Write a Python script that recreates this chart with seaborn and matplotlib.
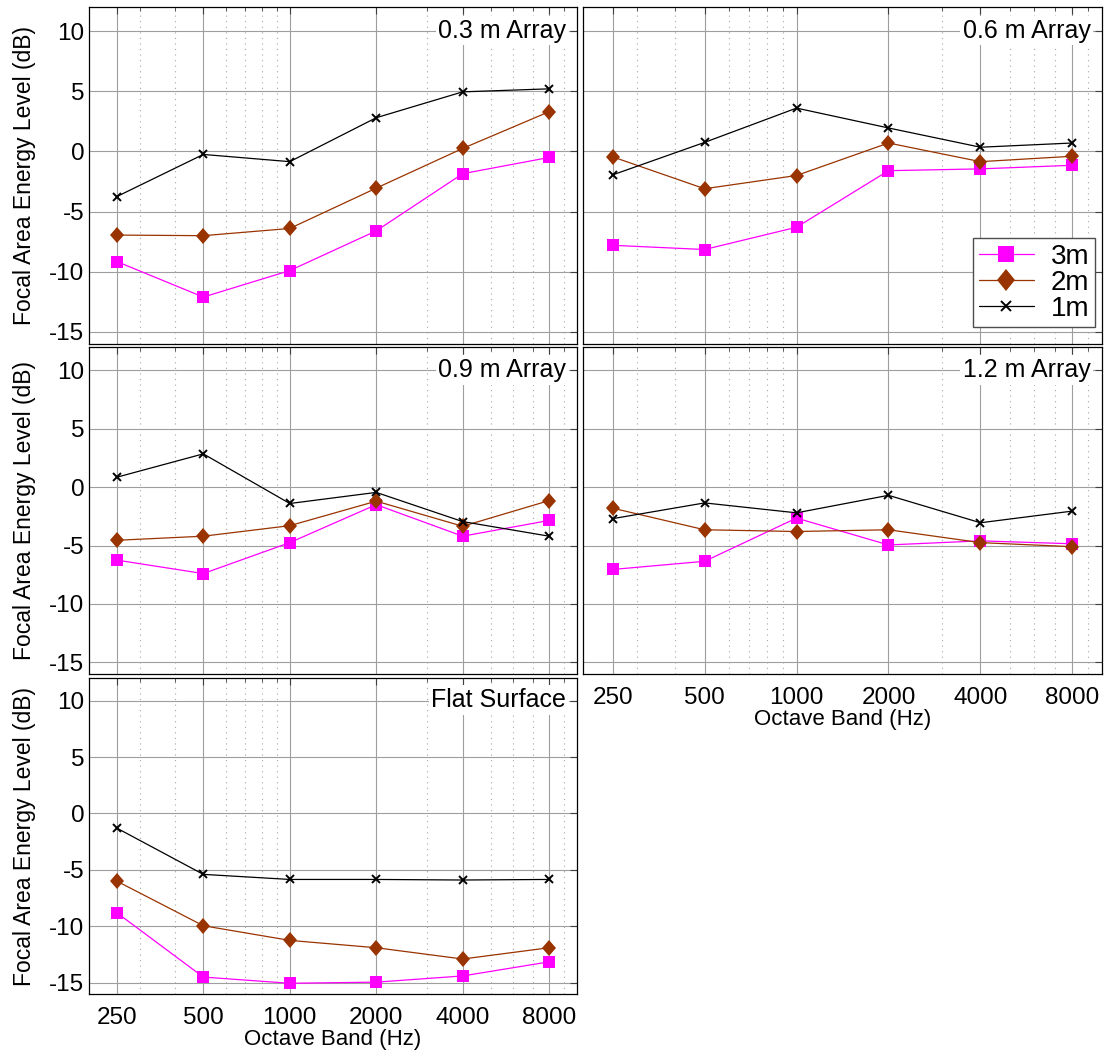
import numpy as np
import pandas as pd
import matplotlib
matplotlib.use('Agg')
import matplotlib.pyplot as plt
from matplotlib.lines import Line2D
from matplotlib.markers import MarkerStyle
from matplotlib.transforms import Affine2D
import seaborn as sns

# octave bands (Hz)
bands = [250, 500, 1000, 2000, 4000, 8000]
band_labels = ['250', '500', '1000', '2000', '4000', '8000']
minor_bands = [300, 400, 600, 700, 800, 900, 3000, 5000, 6000, 7000, 9000]
y_ticks = [-15, -10, -5, 0, 5, 10]

titles = ['0.3 m Array', '0.6 m Array', '0.9 m Array', '1.2 m Array',
          'Flat Surface']

# focal area energy level (dB) per panel and distance
p03_3m = [-9.15, -12.1, -9.9, -6.6, -1.85, -0.5]
p03_2m = [-6.95, -7.0, -6.4, -3.05, 0.25, 3.3]
p03_1m = [-3.75, -0.25, -0.85, 2.8, 4.95, 5.2]

p06_3m = [-7.8, -8.15, -6.3, -1.6, -1.45, -1.15]
p06_2m = [-0.45, -3.1, -2.0, 0.7, -0.85, -0.4]
p06_1m = [-1.95, 0.75, 3.6, 1.95, 0.35, 0.7]

p09_3m = [-6.25, -7.4, -4.75, -1.5, -4.2, -2.85]
p09_2m = [-4.55, -4.2, -3.3, -1.2, -3.35, -1.15]
p09_1m = [0.85, 2.85, -1.4, -0.45, -2.95, -4.2]

p12_3m = [-7.05, -6.35, -2.65, -4.95, -4.6, -4.85]
p12_2m = [-1.8, -3.65, -3.8, -3.65, -4.75, -5.1]
p12_1m = [-2.7, -1.35, -2.2, -0.7, -3.05, -2.05]

flat_3m = [-8.8, -14.5, -15.05, -14.95, -14.4, -13.15]
flat_2m = [-6.0, -9.95, -11.25, -11.9, -12.9, -11.9]
flat_1m = [-1.3, -5.4, -5.85, -5.85, -5.9, -5.85]

panel_data = [
    (p03_3m, p03_2m, p03_1m),
    (p06_3m, p06_2m, p06_1m),
    (p09_3m, p09_2m, p09_1m),
    (p12_3m, p12_2m, p12_1m),
    (flat_3m, flat_2m, flat_1m),
]
distances = ['3m', '2m', '1m']

rows = []
for title, series in zip(titles, panel_data):
    for dist, vals in zip(distances, series):
        for f, v in zip(bands, vals):
            rows.append({'panel': title, 'distance': dist, 'band': f,
                         'level': v})
df = pd.DataFrame(rows)

sns.set_style('white')
plt.rcParams['font.family'] = ['Liberation Sans', 'DejaVu Sans']
plt.rcParams['text.color'] = 'black'
plt.rcParams['axes.labelcolor'] = 'black'
plt.rcParams['xtick.labelcolor'] = 'black'
plt.rcParams['ytick.labelcolor'] = 'black'

diamond = MarkerStyle('D', transform=Affine2D().scale(0.82, 1.0))
styles = {
    '3m': dict(color='#ff00ff', marker='s', markersize=8.5,
               markeredgewidth=0, markeredgecolor='#ff00ff'),
    '2m': dict(color='#993300', marker=diamond, markersize=8.5,
               markeredgewidth=0, markeredgecolor='#993300'),
    '1m': dict(color='black', marker='x', markersize=6,
               markeredgewidth=1.4, markeredgecolor='black'),
}

fig = plt.figure(figsize=(11.06, 10.59), dpi=100)

W, H = 1106.0, 1059.0
col_x = [(89, 577), (583, 1102)]
row_y = [(7, 344), (347, 674), (678, 994)]
positions = [(0, 0), (0, 1), (1, 0), (1, 1), (2, 0)]

for i, title in enumerate(titles):
    r, c = positions[i]
    x0, x1 = col_x[c]
    y0, y1 = row_y[r]
    ax = fig.add_axes([x0 / W, 1 - y1 / H, (x1 - x0) / W, (y1 - y0) / H])
    sub = df[df.panel == title]
    for dist in distances:
        d = sub[sub.distance == dist]
        sns.lineplot(data=d, x='band', y='level', ax=ax, linewidth=0.9,
                     **styles[dist])
    ax.set_xscale('log')
    ax.set_xlim(200, 10000)
    ax.set_ylim(-16, 12)
    ax.set_xticks(bands)
    ax.set_xticks(minor_bands, minor=True)
    ax.set_yticks(y_ticks)
    ax.grid(True, which='major', color='0.62', linewidth=0.8)
    ax.grid(True, which='minor', axis='x', color='0.65', linewidth=0.8,
            linestyle=(0, (1, 4)))
    ax.set_axisbelow(True)
    ax.tick_params(which='both', direction='in', top=True, right=True,
                   color='0.25', labelcolor='black', labelsize=17.5)
    ax.tick_params(which='major', length=5, width=0.8)
    ax.tick_params(which='minor', length=3, width=0.6)
    ax.tick_params(axis='x', pad=9)
    for sp in ax.spines.values():
        sp.set_color('black')
        sp.set_linewidth(0.9)
    if i in (3, 4):
        ax.set_xticklabels(band_labels)
        ax.set_xlabel('Octave Band (Hz)', fontsize=16, labelpad=0)
    else:
        ax.set_xticklabels([])
        ax.set_xlabel('')
    ax.xaxis.set_minor_formatter(plt.NullFormatter())
    if c == 0:
        ax.set_yticklabels([str(t) for t in y_ticks])
        ax.set_ylabel('Focal Area Energy Level (dB)', fontsize=16.5,
                      labelpad=9)
    else:
        ax.set_yticklabels([])
        ax.set_ylabel('')
    ax.text(0.978, 0.93, title, transform=ax.transAxes, ha='right',
            va='center', fontsize=18, color='black',
            bbox=dict(facecolor='white', edgecolor='none', pad=2))
    if i == 1:
        handles = [Line2D([], [], linewidth=0.9, **styles[d])
                   for d in distances]
        for h in handles:
            h.set_markersize(h.get_markersize() * 1.3)
        leg = ax.legend(handles, distances, loc='lower right',
                        bbox_to_anchor=(0.9865, 0.05), borderaxespad=0,
                        fontsize=20, fancybox=False, framealpha=1,
                        edgecolor='0.3', handlelength=2.0,
                        handletextpad=0.6, labelspacing=0.0,
                        borderpad=0.2)
        leg.get_frame().set_linewidth(1.0)
        for t in leg.get_texts():
            t.set_color('black')
    elif ax.get_legend() is not None:
        ax.get_legend().remove()

fig.savefig('out.png', dpi=100)
